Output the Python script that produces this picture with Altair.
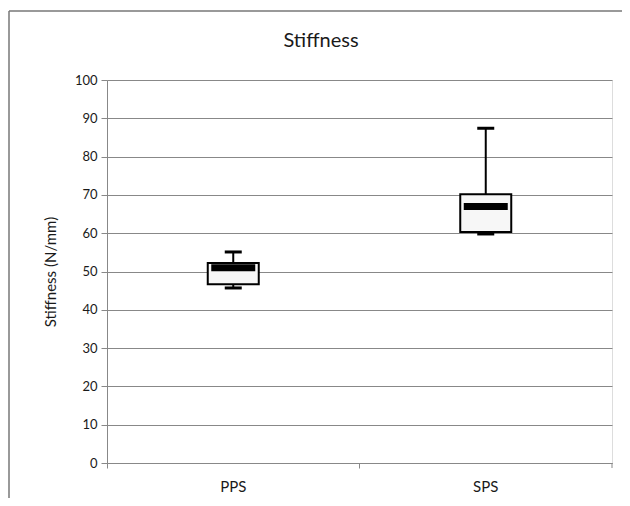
import altair as alt
import pandas as pd

groups = ["PPS", "SPS"]
mins = [45.7, 59.8]
q1s = [46.7, 60.3]
medians = [51.0, 67.0]
q3s = [52.2, 70.2]
maxs = [55.1, 87.4]
y_ticks = [0, 10, 20, 30, 40, 50, 60, 70, 80, 90, 100]

df = pd.DataFrame({"group": groups, "min": mins, "q1": q1s, "median": medians,
                   "q3": q3s, "max": maxs})

FONT = "Lato"
W, H = 505, 383

x = alt.X("group:N", title=None, sort=groups,
          scale=alt.Scale(paddingInner=0, paddingOuter=0),
          axis=alt.Axis(labelAngle=0, bandPosition=0, ticks=True, tickSize=5,
                        tickColor="#888888", domainColor="#888888", labelFontSize=15,
                        labelColor="#1a1a1a", labelFont=FONT, labelPadding=11,
                        grid=False))
yscale = alt.Scale(domain=[0, 100], nice=False)
yaxis = alt.Axis(values=y_ticks, grid=True, gridColor="#888888", labelOverlap=False,
                 gridWidth=1.2, domainColor="#888888", tickColor="#888888",
                 tickSize=6, labelFontSize=13, labelColor="#1a1a1a", labelFont=FONT,
                 labelPadding=4, title="Stiffness (N/mm)", titleFont=FONT,
                 titleFontSize=15, titleFontWeight="normal", titleColor="#1a1a1a",
                 titlePadding=16)

base = alt.Chart(df)

def Y(field):
    return alt.Y(field, scale=yscale, axis=yaxis)

whisk_hi = base.mark_rule(color="black", strokeWidth=2).encode(
    x=x, y=Y("q3:Q"), y2="max:Q")
whisk_lo = base.mark_rule(color="black", strokeWidth=2).encode(
    x=x, y=Y("min:Q"), y2="q1:Q")
box = base.mark_bar(size=51, fill="#f7f7f7", stroke="black", strokeWidth=2).encode(
    x=x, y=Y("q1:Q"), y2="q3:Q")
med = base.mark_tick(size=44, thickness=7, color="black", opacity=1).encode(
    x=x, y=Y("median:Q"))
cap_hi = base.mark_tick(size=17, thickness=3, color="black", opacity=1).encode(
    x=x, y=Y("max:Q"))
cap_lo = base.mark_tick(size=17, thickness=3, color="black", opacity=1).encode(
    x=x, y=Y("min:Q"))

one = alt.Chart(pd.DataFrame({"t": ["Stiffness"]}))
end_tick = one.mark_rule(color="#888888", strokeWidth=1).encode(
    x=alt.value(W), y=alt.value(H), y2=alt.value(H + 5))
frame_top = one.mark_rule(color="#777777", strokeWidth=1.5).encode(
    x=alt.value(-98), x2=alt.value(530), y=alt.value(-69))
frame_left = one.mark_rule(color="#777777", strokeWidth=1.5).encode(
    x=alt.value(-98), y=alt.value(-69), y2=alt.value(430))
title = one.mark_text(font=FONT, fontSize=20, color="#1a1a1a", align="center",
                      baseline="alphabetic").encode(
    text="t:N", x=alt.value(214), y=alt.value(-33))

chart = alt.layer(whisk_hi, whisk_lo, box, med, cap_hi, cap_lo,
                  frame_top, frame_left, end_tick, title).properties(
    width=W, height=H,
    autosize=alt.AutoSizeParams(type="none"),
    padding={"left": 99, "top": 72, "right": 10, "bottom": 35},
).configure_view(stroke=None).configure(background="white")

chart.save("out.html", embed_options={"renderer": "svg", "actions": False})
